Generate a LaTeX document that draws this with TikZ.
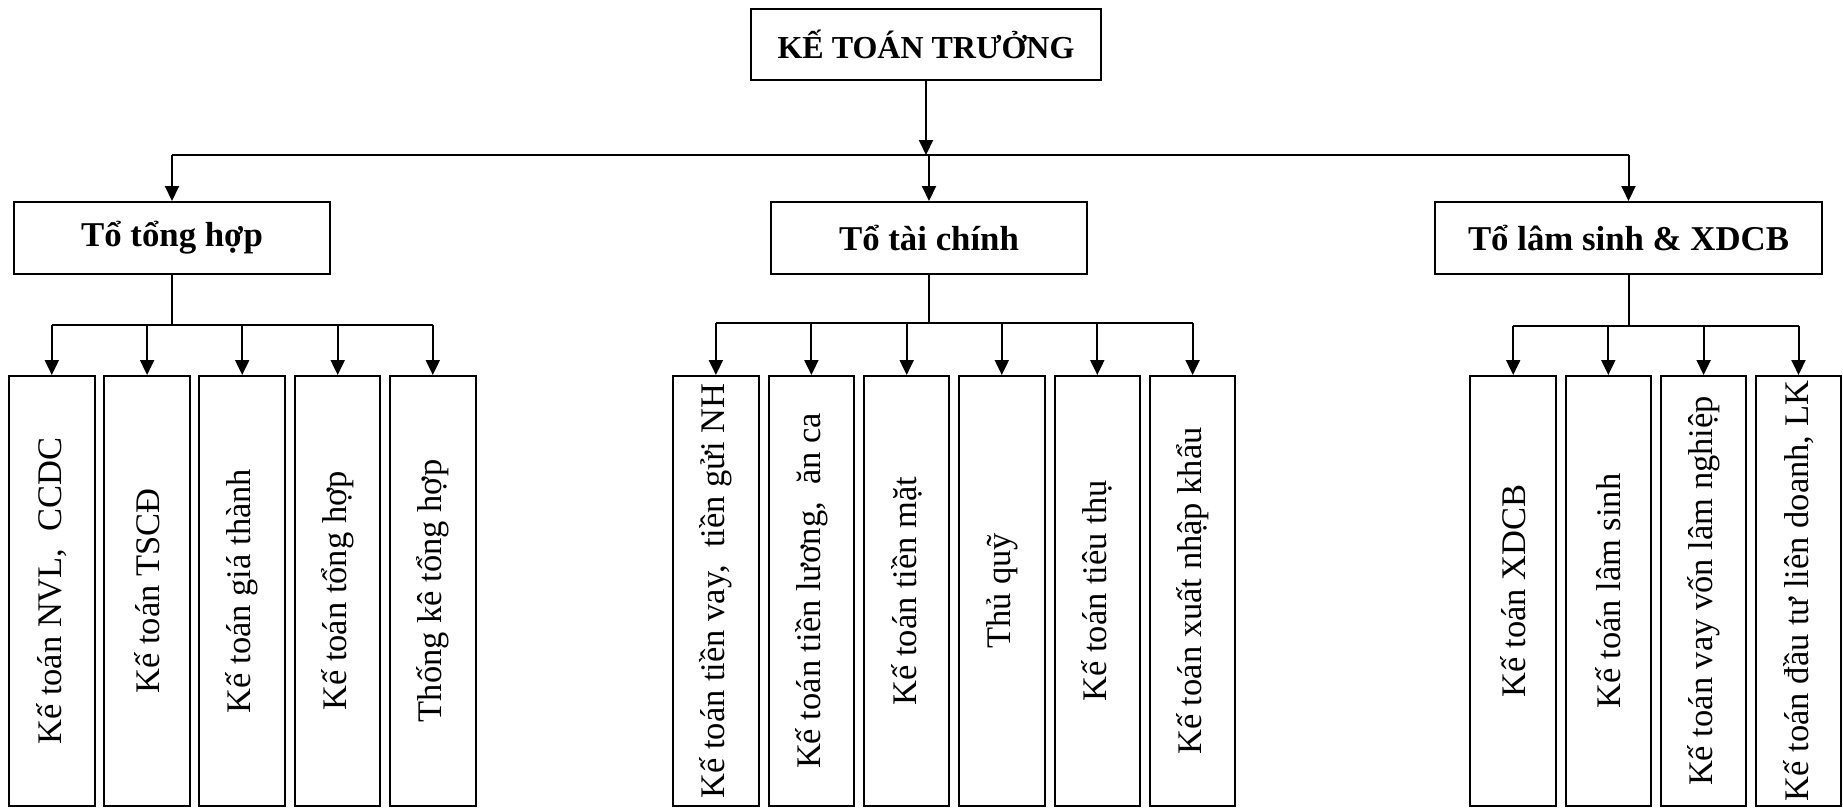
\documentclass[tikz,border=0pt]{standalone}
\usepackage{fontspec}
\setmainfont{Liberation Serif}
\usetikzlibrary{arrows.meta, positioning}

\begin{document}
\begin{tikzpicture}[
    x=0.5pt, y=0.5pt,
    every node/.style={inner sep=0pt},
    head/.style={rectangle, draw, line width=1pt, minimum width=175pt, minimum height=35.5pt, font=\fontsize{16}{19}\selectfont\bfseries},
    team/.style={rectangle, draw, line width=1pt, minimum width=158pt, minimum height=36pt, font=\fontsize{17.4}{20}\selectfont\bfseries},
    job/.style={rectangle, draw, line width=1pt, minimum width=42.75pt, minimum height=215pt, font=\fontsize{17.25}{20}\selectfont},
    arrow/.style={-{Triangle[length=7.5pt, width=7pt]}, line width=1pt},
    link/.style={line width=1pt}
]
\useasboundingbox (0,0) rectangle (1843,-809);

\node[head] (ktt) at (926,-44.5) {KẾ TOÁN TRƯỞNG};

\node[team] (tth) at (172,-238) {Tổ tổng hợp};
\node[team] (ttc) at (929,-238) {Tổ tài chính};
\node[team, minimum width=193.5pt] (tls) at (1628.5,-238) {Tổ lâm sinh \& XDCB};

% to tong hop
\node[job] (th1) at (51.8,-591) {\rotatebox{90}{Kế toán NVL,\ \ CCDC}};
\node[job] (th2) at (147.1,-591) {\rotatebox{90}{Kế toán TSCĐ}};
\node[job] (th3) at (242.2,-591) {\rotatebox{90}{Kế toán giá thành}};
\node[job] (th4) at (337.7,-591) {\rotatebox{90}{Kế toán tổng hợp}};
\node[job] (th5) at (432.8,-591) {\rotatebox{90}{Thống kê tổng hợp}};

% to tai chinh
\node[job] (tc1) at (715.9,-591) {\rotatebox{90}{Kế toán tiền vay,\ \ tiền gửi NH}};
\node[job] (tc2) at (811.4,-591) {\rotatebox{90}{Kế toán tiền lương,\ \ ăn ca}};
\node[job] (tc3) at (906.7,-591) {\rotatebox{90}{Kế toán tiền mặt}};
\node[job] (tc4) at (1001.8,-591) {\rotatebox{90}{Thủ quỹ}};
\node[job] (tc5) at (1097.3,-591) {\rotatebox{90}{Kế toán tiêu thụ}};
\node[job] (tc6) at (1192.6,-591) {\rotatebox{90}{Kế toán xuất nhập khẩu}};

% to lam sinh
\node[job] (ls1) at (1513.2,-591) {\rotatebox{90}{Kế toán XDCB}};
\node[job] (ls2) at (1608.3,-591) {\rotatebox{90}{Kế toán lâm sinh}};
\node[job] (ls3) at (1703.6,-591) {\rotatebox{90}{Kế toán vay vốn lâm nghiệp}};
\node[job] (ls4) at (1798.5,-591) {\rotatebox{90}{Kế toán đầu tư liên doanh, LK}};

\coordinate (bus) at (0,-155);
\coordinate (busth) at (0,-325);
\coordinate (bustc) at (0,-323);
\coordinate (busls) at (0,-326);

\draw[arrow] (ktt.south) -- (ktt.south |- bus);
\draw[link] (tth.north |- bus) -- (tls.north |- bus);
\draw[arrow] (tth.north |- bus) -- (tth.north);
\draw[arrow] (ttc.north |- bus) -- (ttc.north);
\draw[arrow] (tls.north |- bus) -- (tls.north);

\draw[link] (tth.south) -- (tth.south |- busth);
\draw[link] (th1.north |- busth) -- (th5.north |- busth);
\draw[arrow] (th1.north |- busth) -- (th1.north);
\draw[arrow] (th2.north |- busth) -- (th2.north);
\draw[arrow] (th3.north |- busth) -- (th3.north);
\draw[arrow] (th4.north |- busth) -- (th4.north);
\draw[arrow] (th5.north |- busth) -- (th5.north);

\draw[link] (ttc.south) -- (ttc.south |- bustc);
\draw[link] (tc1.north |- bustc) -- (tc6.north |- bustc);
\draw[arrow] (tc1.north |- bustc) -- (tc1.north);
\draw[arrow] (tc2.north |- bustc) -- (tc2.north);
\draw[arrow] (tc3.north |- bustc) -- (tc3.north);
\draw[arrow] (tc4.north |- bustc) -- (tc4.north);
\draw[arrow] (tc5.north |- bustc) -- (tc5.north);
\draw[arrow] (tc6.north |- bustc) -- (tc6.north);

\draw[link] (tls.south) -- (tls.south |- busls);
\draw[link] (ls1.north |- busls) -- (ls4.north |- busls);
\draw[arrow] (ls1.north |- busls) -- (ls1.north);
\draw[arrow] (ls2.north |- busls) -- (ls2.north);
\draw[arrow] (ls3.north |- busls) -- (ls3.north);
\draw[arrow] (ls4.north |- busls) -- (ls4.north);

\end{tikzpicture}
\end{document}
